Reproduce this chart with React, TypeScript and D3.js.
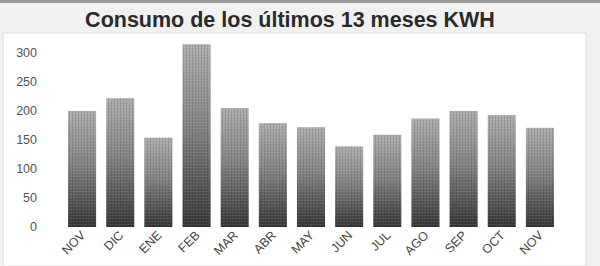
import React from "react";
import * as d3 from "d3";

const months = ["NOV", "DIC", "ENE", "FEB", "MAR", "ABR", "MAY", "JUN", "JUL", "AGO", "SEP", "OCT", "NOV"];
const consumo = [200, 222, 154, 315, 205, 179, 172, 139, 159, 187, 200, 193, 171];
const yTicks = [0, 50, 100, 150, 200, 250, 300];
const title = "Consumo de los últimos 13 meses KWH";

const W = 600;
const H = 266;

export default function App() {
  const x = d3
    .scaleBand<number>()
    .domain(months.map((_, i) => i))
    .range([63, 559])
    .paddingInner(0.265)
    .paddingOuter(0.1325);
  const y = d3.scaleLinear().domain([0, 300]).range([227, 53]);

  return (
    <svg
      width={W}
      height={H}
      style={{ position: "absolute", left: 0, top: 0, display: "block" }}
      fontFamily="'Liberation Sans', Arial, sans-serif"
    >
      <defs>
        <linearGradient id="barGrad" x1="0" y1="0" x2="0" y2="1">
          <stop offset="0" stopColor="#adadad" />
          <stop offset="0.45" stopColor="#858585" />
          <stop offset="1" stopColor="#363636" />
        </linearGradient>
        <pattern id="stripes" width="3" height="3" patternUnits="userSpaceOnUse">
          <rect x="0" y="0" width="1" height="3" fill="#000" opacity="0.12" />
          <rect x="0" y="2" width="3" height="1" fill="#fff" opacity="0.08" />
        </pattern>
      </defs>
      <rect x={0} y={0} width={W} height={H} fill="#f1f1f1" />
      <rect x={0} y={0} width={W} height={3} fill="#9a9a9a" />
      <rect x={3} y={33} width={583} height={H - 33} fill="#ffffff" stroke="#dedede" />
      <text
        x={290}
        y={27}
        textAnchor="middle"
        fontSize={21.5}
        fontWeight="bold"
        fill="#2a2a2a"
      >
        {title}
      </text>
      {yTicks.map((t) => (
        <text key={t} x={37} y={y(t)} dy="0.35em" textAnchor="end" fontSize={12.5} fill="#555">
          {t}
        </text>
      ))}
      {consumo.map((v, i) => (
        <g key={i}>
          <rect
            x={x(i)}
            y={y(v)}
            width={x.bandwidth()}
            height={y(0) - y(v)}
            fill="url(#barGrad)"
          />
          <rect
            x={x(i)}
            y={y(v)}
            width={x.bandwidth()}
            height={y(0) - y(v)}
            fill="url(#stripes)"
          />
        </g>
      ))}
      {months.map((m, i) => {
        const cx = (x(i) ?? 0) + x.bandwidth() / 2 + 4;
        const cy = 236;
        return (
          <text
            key={i}
            transform={`translate(${cx},${cy}) rotate(-45)`}
            textAnchor="end"
            fontSize={12.5}
            fill="#444"
          >
            {m}
          </text>
        );
      })}
    </svg>
  );
}
